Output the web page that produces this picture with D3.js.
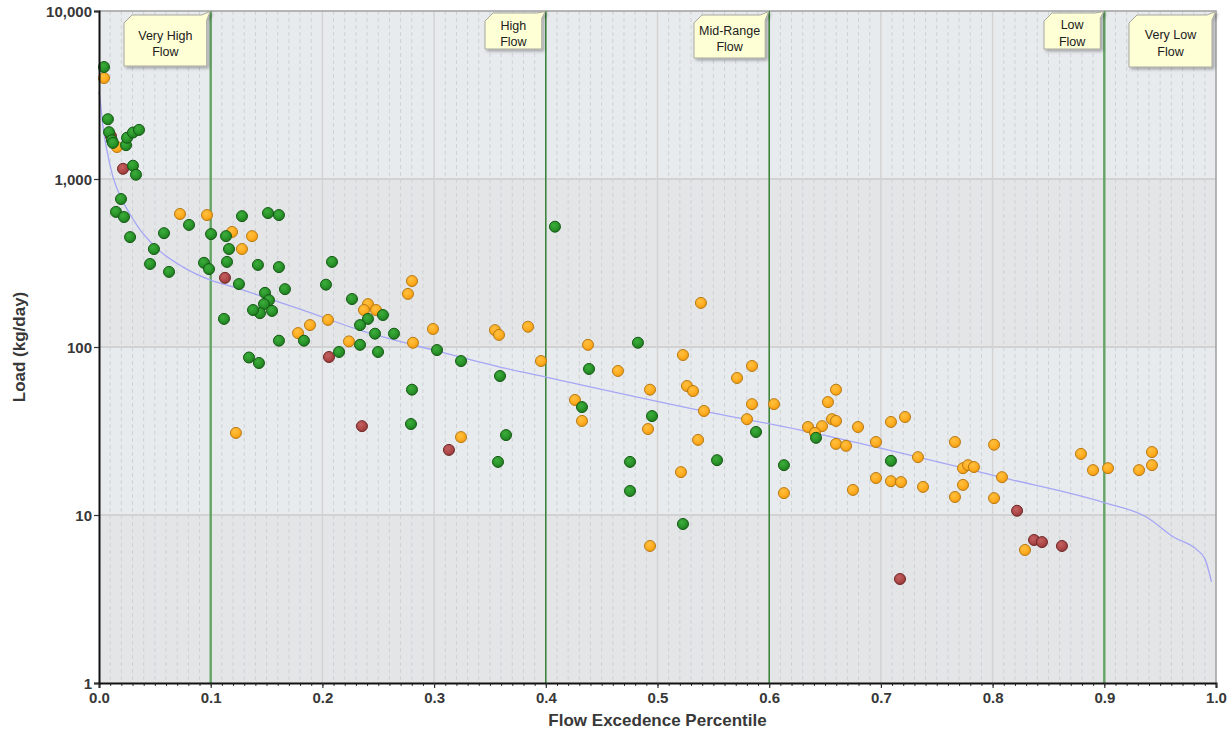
<!DOCTYPE html>
<html>
<head>
<meta charset="utf-8">
<title>Load Duration Curve</title>
<script src="https://cdn.jsdelivr.net/npm/d3@7"></script>
<style>
body{margin:0;background:#ffffff;}
svg{display:block;font-family:"Liberation Sans",Arial,sans-serif;}
</style>
</head>
<body>
<svg id="chart"></svg>
<script>
// flow regime boundaries and their labels
var zoneBreaks = [0.1, 0.4, 0.6, 0.9, 1.0];
var zoneLabels = [["Very High","Flow"],["High","Flow"],["Mid-Range","Flow"],["Low","Flow"],["Very Low","Flow"]];

// axis ticks
var xTicks = [0,0.1,0.2,0.3,0.4,0.5,0.6,0.7,0.8,0.9,1.0];
var yTicks = [1,10,100,1000,10000];

// load duration curve (blue line)
var curvePct  = [0.000,0.001,0.004,0.007,0.0125,0.019,0.027,0.034,0.052,0.075,0.1,0.12,0.141,0.18,0.24,0.299,0.359,0.401,0.538,0.628,0.807,0.899,0.938,0.962,0.983,0.990,0.996];
var curveLoad = [3300,2950,1950,1490,1030,790,630,530,385,300,250,228,205,168,122,96,76,66,42,32,16.8,11.9,9.7,7.4,6.2,5.5,4.0];

// observed loads - green points
var greenPct  = [0.0045,0.008,0.009,0.0116,0.0125,0.0242,0.0251,0.0304,0.0358,0.0304,0.0331,0.0197,0.0152,0.0224,0.0278,0.0582,0.0492,0.0457,0.0627,0.0806,0.1003,0.094,0.0985,0.1137,0.1146,0.1164,0.128,0.1253,0.1423,0.1513,0.1611,0.1611,0.1665,0.1486,0.1522,0.1477,0.1549,0.1441,0.1379,0.1119,0.1835,0.1611,0.1343,0.1432,0.2086,0.2032,0.2265,0.2542,0.2408,0.2337,0.2471,0.2641,0.2337,0.2498,0.2149,0.3026,0.3241,0.359,0.2802,0.2793,0.3644,0.3572,0.4082,0.4825,0.4387,0.4324,0.4951,0.4754,0.4754,0.5228,0.5533,0.5882,0.6132,0.6419,0.709];
var greenLoad = [4640,2270,1900,1700,1640,1590,1760,1890,1960,1200,1060,760,637,594,451,476,383,312,280,533,470,317,291,457,321,383,601,237,308,627,610,299,221,210,190,180,164,159,166,147,109,109,86.6,80.3,321,235,193,155,147,135,120,120,103,93.4,93.4,95.9,82.5,67.2,55.7,34.8,29.9,20.7,520,106,74,43.9,38.8,20.7,13.9,8.84,21.2,31.2,19.8,28.8,21.0];

// observed loads - orange points
var orangePct  = [0.0045,0.0161,0.0725,0.0967,0.1191,0.137,0.128,0.1226,0.1889,0.1782,0.205,0.2408,0.2372,0.248,0.2238,0.2802,0.2766,0.2811,0.299,0.3545,0.3581,0.3841,0.3957,0.3241,0.4378,0.4261,0.4324,0.4915,0.4933,0.4646,0.4933,0.5389,0.5228,0.5264,0.5318,0.5416,0.5363,0.521,0.5712,0.5846,0.5846,0.5801,0.6043,0.6132,0.6347,0.6473,0.641,0.6526,0.6598,0.6562,0.6598,0.6598,0.6688,0.6795,0.675,0.6956,0.6956,0.709,0.7216,0.709,0.718,0.7332,0.7377,0.7663,0.7663,0.7735,0.778,0.7833,0.7735,0.8013,0.8013,0.8084,0.829,0.8791,0.8899,0.9033,0.9311,0.9427,0.9427];
var orangeLoad = [3990,1550,619,610,484,457,383,30.8,135,121,145,180,166,166,108,247,207,106,128,126,118,132,82.5,29.1,103,48.4,36.3,32.5,55.7,72,6.54,183,89.6,58.6,54.7,41.6,28.0,18.0,65.4,77.1,45.7,37.2,45.7,13.5,33.4,33.8,30.8,47.0,55.7,37.2,36.3,26.5,25.8,33.4,14.1,27.2,16.6,35.8,38.3,15.9,15.7,22.1,14.7,27.2,12.8,19.0,19.8,19.3,15.1,26.2,12.6,16.8,6.19,23.1,18.5,19.0,18.5,23.7,19.8];

// observed loads - red points
var redPct  = [0.0107,0.0215,0.1128,0.2059,0.2354,0.3133,0.7171,0.8219,0.8371,0.8442,0.8621];
var redLoad = [1800,1150,258,87.2,33.8,24.4,4.16,10.6,7.10,6.90,6.54];

/* callout box geometry for the flow zone labels (left, top, bottom) */
var boxLayout = [
    {left:124, top:15, bottom:66, line1:36, line2:52},
    {left:485, top:13, bottom:49, line1:26, line2:42},
    {left:694, top:15, bottom:58, line1:31, line2:47},
    {left:1044,top:13, bottom:49, line1:25, line2:42},
    {left:1129,top:15, bottom:67, line1:35, line2:52}
];

var initGraph = function(target)
{
    var screen = {width:1231, height:731};
    var margins = {top:11, bottom:48, left:99, right:15};
    var graph = {
        width:screen.width-margins.left-margins.right,
        height:screen.height-margins.top-margins.bottom
    };

    var svg = d3.select(target)
        .attr("width",screen.width)
        .attr("height",screen.height);

    var xScale = d3.scaleLinear()
        .domain([0,1])
        .range([margins.left,margins.left+graph.width]);

    var yScale = d3.scaleLog()
        .domain([1,10000])
        .range([margins.top+graph.height,margins.top]);

    var defs = svg.append("defs");
    var shadow = defs.append("filter").attr("id","boxShadow")
        .attr("x","-20%").attr("y","-20%").attr("width","150%").attr("height","150%");
    shadow.append("feDropShadow")
        .attr("dx",2).attr("dy",2).attr("stdDeviation",1.5)
        .attr("flood-color","#000").attr("flood-opacity",0.3);

    //shaded ball look for the points
    var makeGrad = function(id,light,mid,dark)
    {
        var g = defs.append("radialGradient").attr("id",id)
            .attr("cx","40%").attr("cy","35%").attr("r","65%");
        g.append("stop").attr("offset","0%").attr("stop-color",light);
        g.append("stop").attr("offset","60%").attr("stop-color",mid);
        g.append("stop").attr("offset","100%").attr("stop-color",dark);
    }
    makeGrad("gGreen","#3cad3c","#2a962a","#1f7a1f");
    makeGrad("gOrange","#ffc040","#ffae22","#f09a10");
    makeGrad("gRed","#c46060","#b04a4a","#953838");

    //background bands, one per decade
    var bands = d3.pairs(yTicks);
    svg.append("g").selectAll("rect")
        .data(bands)
        .enter()
        .append("rect")
        .attr("x",xScale(0))
        .attr("width",xScale(1)-xScale(0))
        .attr("y",function(d){ return yScale(d[1]); })
        .attr("height",function(d){ return yScale(d[0])-yScale(d[1]); })
        .attr("fill",function(d,i){ return i%2==0 ? "#e4e5e7" : "#e8ebee"; });

    //minor dashed vertical grid
    var minor = d3.range(1,100).filter(function(i){ return i%10 != 0; })
        .map(function(i){ return i/100; });
    svg.append("g").selectAll("line")
        .data(minor)
        .enter()
        .append("line")
        .attr("x1",function(d){ return xScale(d); })
        .attr("x2",function(d){ return xScale(d); })
        .attr("y1",yScale(10000))
        .attr("y2",yScale(1))
        .attr("stroke","#cfd2d5")
        .attr("stroke-width",1)
        .attr("stroke-dasharray","4,3");

    //major vertical grid
    svg.append("g").selectAll("line")
        .data(xTicks.slice(1,-1))
        .enter()
        .append("line")
        .attr("x1",function(d){ return xScale(d); })
        .attr("x2",function(d){ return xScale(d); })
        .attr("y1",yScale(10000))
        .attr("y2",yScale(1))
        .attr("stroke","#d3d3d3")
        .attr("stroke-width",1.5);

    //horizontal grid at decades
    svg.append("g").selectAll("line")
        .data(yTicks.slice(1,-1))
        .enter()
        .append("line")
        .attr("x1",xScale(0))
        .attr("x2",xScale(1))
        .attr("y1",function(d){ return yScale(d); })
        .attr("y2",function(d){ return yScale(d); })
        .attr("stroke","#d2d2d2")
        .attr("stroke-width",2);

    //top and right border
    svg.append("path")
        .attr("d","M"+xScale(0)+","+yScale(10000)+"H"+xScale(1)+"V"+yScale(1))
        .attr("fill","none")
        .attr("stroke","#a0a0a0")
        .attr("stroke-width",1.5);

    //flow zone boundaries
    svg.append("g").selectAll("line")
        .data(zoneBreaks.slice(0,4))
        .enter()
        .append("line")
        .attr("x1",function(d){ return xScale(d); })
        .attr("x2",function(d){ return xScale(d); })
        .attr("y1",yScale(10000))
        .attr("y2",yScale(1))
        .attr("stroke",function(d){ return (d==0.1||d==0.9) ? "#64a464" : "#2b7d2b"; })
        .attr("stroke-width",function(d){ return (d==0.1||d==0.9) ? 2.4 : 1.4; });

    //duration curve
    var curve = curvePct.map(function(p,i){ return {pct:p, load:curveLoad[i]}; });
    var line = d3.line()
        .x(function(d){ return xScale(d.pct); })
        .y(function(d){ return yScale(d.load); })
        .curve(d3.curveMonotoneX);
    svg.append("path")
        .datum(curve)
        .attr("d",line)
        .attr("fill","none")
        .attr("stroke","#a6a6f6")
        .attr("stroke-width",1.3);

    //points
    var drawPoints = function(pcts,loads,fill,stroke)
    {
        var pts = pcts.map(function(p,i){ return {pct:p, load:loads[i]}; });
        svg.append("g").selectAll("circle")
            .data(pts)
            .enter()
            .append("circle")
            .attr("cx",function(d){ return xScale(d.pct); })
            .attr("cy",function(d){ return yScale(d.load); })
            .attr("r",5.5)
            .attr("fill",fill)
            .attr("stroke",stroke)
            .attr("stroke-width",1);
    }
    drawPoints(orangePct,orangeLoad,"url(#gOrange)","#b87a14");
    drawPoints(redPct,redLoad,"url(#gRed)","#6e2828");
    drawPoints(greenPct,greenLoad,"url(#gGreen)","#145a14");

    createAxes(svg,xScale,yScale);
    drawZoneLabels(svg,xScale,yScale);
}

/*axes, ticks and titles*/
var createAxes = function(svg,xScale,yScale)
{
    var xAxis = d3.axisBottom(xScale)
        .tickValues(xTicks)
        .tickSize(5)
        .tickFormat(d3.format(".1f"));
    var yAxis = d3.axisLeft(yScale)
        .tickValues(yTicks)
        .tickSize(5)
        .tickFormat(d3.format(","));

    //minor ticks on the x axis
    var minorAxis = d3.axisBottom(xScale)
        .tickValues(d3.range(0,101).map(function(i){ return i/100; }))
        .tickSize(3)
        .tickFormat("");
    svg.append("g")
        .attr("transform","translate(0,"+yScale(1)+")")
        .call(minorAxis)
        .call(function(g){ g.select(".domain").remove(); })
        .selectAll("line").attr("stroke","#333");

    var gx = svg.append("g")
        .attr("transform","translate(0,"+yScale(1)+")")
        .call(xAxis);
    var gy = svg.append("g")
        .attr("transform","translate("+xScale(0)+",0)")
        .call(yAxis);

    [gx,gy].forEach(function(g)
    {
        g.select(".domain").attr("stroke","#111").attr("stroke-width",2);
        g.selectAll(".tick line").attr("stroke","#333").attr("stroke-width",1.2);
        g.selectAll(".tick text")
            .attr("fill","#383838")
            .attr("font-size",15)
            .attr("font-weight","bold")
            .attr("font-family","'Liberation Sans',Arial,sans-serif");
    });
    gx.selectAll(".tick text").attr("y",9).attr("dy","0.71em");
    gy.selectAll(".tick text").attr("x",-7).attr("dy","0.36em");

    svg.append("text")
        .attr("x",(xScale(0)+xScale(1))/2)
        .attr("y",726)
        .attr("text-anchor","middle")
        .attr("font-size",17)
        .attr("font-weight","bold")
        .attr("fill","#383838")
        .text("Flow Excedence Percentile");

    svg.append("text")
        .attr("transform","translate(25,"+((yScale(1)+yScale(10000))/2)+") rotate(-90)")
        .attr("text-anchor","middle")
        .attr("font-size",17)
        .attr("font-weight","bold")
        .attr("fill","#383838")
        .text("Load (kg/day)");
}

/*yellow callouts pointing at the top of each zone boundary*/
var drawZoneLabels = function(svg,xScale,yScale)
{
    var top = yScale(10000);
    var g = svg.append("g").selectAll("g")
        .data(zoneLabels)
        .enter()
        .append("g");

    g.append("path")
        .attr("d",function(d,i)
        {
            var b = boxLayout[i];
            var lx = xScale(zoneBreaks[i]);
            var right = lx-4;
            var cut = 8;
            return "M"+b.left+","+(b.top+cut)
                +"L"+(b.left+cut)+","+b.top
                +"L"+(right-5)+","+b.top
                +"L"+(lx-0.5)+","+(top+0.5)
                +"L"+right+","+(b.top+5)
                +"L"+right+","+b.bottom
                +"L"+b.left+","+b.bottom+"Z";
        })
        .attr("fill","#ffffd6")
        .attr("stroke","#a8a8a0")
        .attr("stroke-width",1)
        .attr("filter","url(#boxShadow)");

    g.append("text")
        .attr("text-anchor","middle")
        .attr("font-size",12.5)
        .attr("fill","#202020")
        .attr("x",function(d,i){ return (boxLayout[i].left+xScale(zoneBreaks[i])-4)/2; })
        .attr("y",function(d,i){ return boxLayout[i].line1; })
        .attr("dy","0.35em")
        .text(function(d){ return d[0]; });

    g.append("text")
        .attr("text-anchor","middle")
        .attr("font-size",12.5)
        .attr("fill","#202020")
        .attr("x",function(d,i){ return (boxLayout[i].left+xScale(zoneBreaks[i])-4)/2; })
        .attr("y",function(d,i){ return boxLayout[i].line2; })
        .attr("dy","0.35em")
        .text(function(d){ return d[1]; });
}

initGraph("#chart");
</script>
</body>
</html>
